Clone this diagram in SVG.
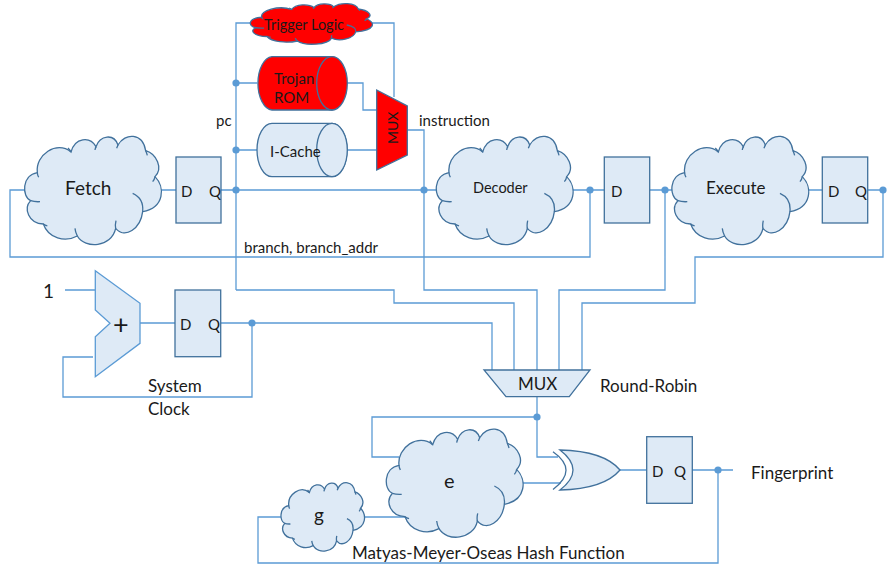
<svg xmlns="http://www.w3.org/2000/svg" width="888" height="566" viewBox="0 0 888 566">
<style>
text{font-family:"Lato","Liberation Sans",sans-serif;fill:#1a1a1a}
.w{fill:none;stroke:#5B9BD5;stroke-width:1.3}
.b{fill:#DEEAF6;stroke:#41719C;stroke-width:1.3}
.r{fill:#FF0000;stroke:#41719C;stroke-width:1.3}
.a{fill:#DEEAF6;stroke:#5B9BD5;stroke-width:1.3}
.d{fill:#5B9BD5}
.c path{vector-effect:non-scaling-stroke}
.f13{font-size:14px}.f14{font-size:14.5px}.f15{font-size:15px}.f17{font-size:17px}.f19{font-size:19px}.f20{font-size:20px}.f26{font-size:27px}
</style>
<defs>
<g id="cloud" class="c">
<path d="M92 212C65 200 65 135 112 128C105 75 170 30 213 66C225 22 270 18 288 50C300 15 342 10 354 45C375 8 428 8 437 62C470 72 490 115 465 140C495 170 495 232 428 245C422 296 375 328 347 295C335 352 255 358 232 318C195 338 145 325 130 282C85 280 70 235 92 212Z"/>
<path fill="none" d="M92 212Q104 216 120 215M112 128Q112 134 116 142M213 66Q210 60 204 54M288 50Q286 54 285 60M354 45Q352 50 350 55M437 62Q440 68 442 76M465 140Q464 148 458 155M398 190Q432 205 428 245M347 295Q345 285 348 272M232 318Q226 306 225 295M130 282Q135 286 142 288"/>
</g>
</defs>
<g id="connectors">
<path class="w" d="M236 290V23H252M372 23H394V97M236 83H257M347 83H363V110H377M236 150H257M347 150H377M407 130H424V290H537V370"/>
<path class="w" d="M161 190H176M221 190H437M25 190H10V257H590V190M573 190H604M650 190H672M665 190V290H559V370M809 190H822M868 190H883V257H695V303H582V370"/>
<path class="w" d="M236 290H394V303H514V370M65 290H95M140 323H175M221 323H492V370M252 323V397H63V357H93"/>
<path class="w" d="M537 397V457H558M537 417H372V457H399M522 483H561M620 470H647M692 470H733M718 470V563H258V517H282M364 517H405"/>
<g class="d">
<circle cx="236" cy="83" r="3.6"/><circle cx="236" cy="150" r="3.6"/><circle cx="236" cy="190" r="3.6"/><circle cx="424" cy="190" r="3.6"/><circle cx="590" cy="190" r="3.6"/><circle cx="665" cy="190" r="3.6"/><circle cx="883" cy="190" r="3.6"/><circle cx="252" cy="323" r="3.6"/><circle cx="537" cy="417" r="3.6"/><circle cx="718" cy="470" r="3.6"/>
</g>
</g>
<g id="trigger"><use href="#cloud" class="r" transform="matrix(.2974 0 0 .125 228.4 1.25)"/><text class="f14" x="264" y="30">Trigger Logic</text></g>
<g id="rom"><path class="r" d="M332 56.7A15 26.7 0 0 1 332 110H272A15 26.7 0 0 1 272 56.7Z"/><ellipse class="r" cx="332" cy="83.3" rx="15.3" ry="26.7"/><text class="f15" x="274" y="84">Trojan</text><text class="f15" x="274" y="103">ROM</text></g>
<g id="icache"><path class="b" d="M332 123.3A15 26.7 0 0 1 332 176.7H272A15 26.7 0 0 1 272 123.3Z"/><ellipse class="b" cx="332" cy="150" rx="15.3" ry="26.7"/><text class="f15" x="270" y="157">I-Cache</text></g>
<g id="mux1"><path class="r" d="M376.7 90L407.3 106V155L376.7 170Z"/><text class="f13" transform="translate(398 144) rotate(-90)">MUX</text></g>
<g id="fetch"><use href="#cloud" class="b" transform="matrix(.3333 0 0 .3333 0 130)"/><text class="f19" x="65" y="195">Fetch</text></g>
<g id="ff1"><rect class="b" x="176" y="157" width="45" height="66"/><text class="f15" x="181" y="197">D</text><text class="f15" x="209" y="197">Q</text></g>
<g id="decoder"><use href="#cloud" class="b" transform="matrix(.3333 0 0 .3333 411.7 130)"/><text class="f14" x="473" y="193">Decoder</text></g>
<g id="ff2"><rect class="b" x="604.3" y="157" width="45.4" height="66"/><text class="f15" x="611" y="197">D</text></g>
<g id="execute"><use href="#cloud" class="b" transform="matrix(.3333 0 0 .3333 647.3 130)"/><text class="f17" x="706" y="194">Execute</text></g>
<g id="ff3"><rect class="b" x="822.3" y="157" width="45.4" height="66"/><text class="f15" x="828" y="197">D</text><text class="f15" x="855" y="197">Q</text></g>
<g id="adder"><path class="a" d="M95.3 270.7L140 303.3V343.3L95.3 376.7V336.7L110 323.3L95.3 310Z"/><text class="f26" x="113" y="334">+</text></g>
<g id="ff4"><rect class="b" x="175" y="290" width="45.7" height="66.7"/><text class="f15" x="180" y="330">D</text><text class="f15" x="208" y="330">Q</text></g>
<g id="muxrr"><path class="b" d="M484 370H590L569.3 396.7H506Z"/><text class="f17" x="518" y="390">MUX</text></g>
<g id="xor"><path class="b" d="M560 450Q604 451 620 470Q604 489 560 490Q586 470 560 450Z"/><path class="w" style="stroke:#41719C" d="M553 451.7Q579 470 553 489.5"/></g>
<g id="ff5"><rect class="b" x="646.7" y="436.7" width="45.6" height="66.6"/><text class="f15" x="652" y="477">D</text><text class="f15" x="674" y="477">Q</text></g>
<g id="e"><use href="#cloud" class="b" transform="matrix(.3333 0 0 .3333 361.7 422.7)"/><text class="f20" x="444" y="488">e</text></g>
<g id="g"><use href="#cloud" class="b" transform="matrix(.2034 0 0 .2106 266 478.7)"/><text class="f19" x="314" y="522">g</text></g>
<g id="labels">
<text class="f15" x="216" y="126">pc</text>
<text class="f15" x="419" y="126">instruction</text>
<text class="f15" x="244" y="253">branch, branch_addr</text>
<text class="f19" x="43" y="298">1</text>
<text class="f17" x="148" y="392">System</text>
<text class="f17" x="148" y="415">Clock</text>
<text class="f17" x="600" y="392">Round-Robin</text>
<text class="f17" x="352" y="559">Matyas-Meyer-Oseas Hash Function</text>
<text class="f17" x="751" y="479">Fingerprint</text>
</g>
</svg>
